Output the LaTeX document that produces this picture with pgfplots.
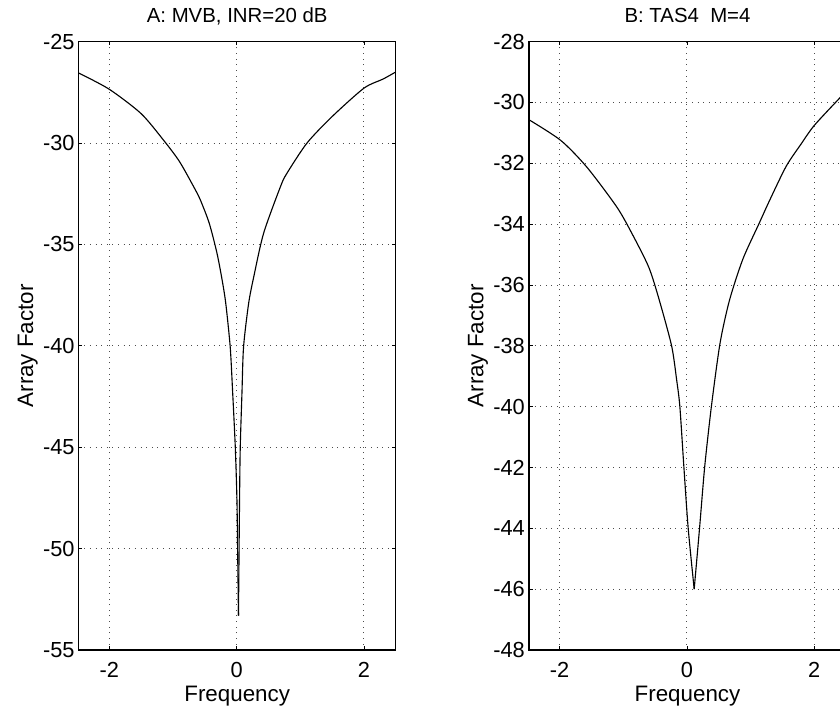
\documentclass[border=0pt]{standalone}
\usepackage{fontspec}
\setmainfont{Liberation Sans}
\usepackage{pgfplots}
\pgfplotsset{compat=1.18}
\pgfplotstableread{
x y
-2.48 -26.55
-2.0 -27.35
-1.5 -28.55
-1.15 -29.85
-0.9 -30.9
-0.675 -32.15
-0.57 -32.8
-0.43 -33.95
-0.31 -35.4
-0.23 -36.7
-0.17 -37.9
-0.10 -40.05
-0.063 -42.2
-0.02 -45.0
0.006 -47.6
0.016 -49.9
0.03 -53.3
}\dataAl
\pgfplotstableread{
x y
0.03 -53.3
0.047 -47.6
0.058 -45.0
0.085 -42.3
0.11 -40.05
0.19 -37.9
0.27 -36.6
0.425 -34.45
0.69 -32.15
0.79 -31.5
1.107 -30.0
1.5 -28.7
2.0 -27.3
2.3 -26.85
2.5 -26.5
}\dataAr
\pgfplotstableread{
x y
-2.48 -30.57
-1.98 -31.25
-1.57 -32.13
-1.10 -33.44
-0.86 -34.32
-0.60 -35.41
-0.44 -36.45
-0.24 -38.0
-0.16 -39.13
-0.11 -40.0
-0.047 -41.98
0.02 -43.98
0.115 -46.0
}\dataBl
\pgfplotstableread{
x y
0.115 -46.0
0.2 -43.98
0.28 -41.98
0.385 -40.0
0.52 -37.93
0.67 -36.5
0.88 -35.15
1.13 -34.0
1.30 -33.22
1.56 -32.1
1.8 -31.35
2.0 -30.76
2.39 -29.88
2.5 -29.65
}\dataBr
\begin{document}
\begin{tikzpicture}
\path (0,0) rectangle (210mm,178.5mm);
\pgfplotsset{
  mvb/.style={
    overlay,
    scale only axis,
    width=79.25mm, height=152.1mm,
    anchor=south west,
    xmin=-2.48, xmax=2.5,
    xtick={-2,0,2},
    tick align=inside,
    major tick length=0.9mm,
    tick style={black, line width=0.5pt},
    axis line style={black, line width=0.8pt},
    grid=major,
    major grid style={black!70, line width=0.6pt, dash pattern=on 0.6pt off 3.4pt},
    ticklabel style={font=\fontsize{15.5}{16}\selectfont},
    /pgf/number format/assume math mode=true,
    xticklabel style={anchor=base, yshift=-6.9mm},
    yticklabel style={anchor=east, xshift=0.2mm},
    title style={font=\fontsize{14.5}{15}\selectfont, at={(axis description cs:0.5,1)}, anchor=base, yshift=2.6mm},
    xlabel={Frequency},
    ylabel={Array Factor},
    xlabel style={font=\fontsize{15.9}{16}\selectfont, at={(axis description cs:0.5,0)}, anchor=base, yshift=-13mm},
    ylabel style={font=\fontsize{15.9}{16}\selectfont, at={(axis description cs:0,0.5)}, anchor=base},
    every axis y label/.append style={yshift=11.4mm},
    curve/.style={black, line width=0.8pt, mark=none, smooth, tension=0.45},
  }
}
\begin{axis}[mvb, at={(19.675mm,16mm)},
  ymin=-55, ymax=-25, ytick={-55,-50,...,-25},
  title={A: MVB, INR=20 dB}]
\addplot[curve] table[x=x,y=y] {\dataAl};
\addplot[curve] table[x=x,y=y] {\dataAr};
\end{axis}
\begin{axis}[mvb, at={(132.25mm,16mm)},
  ymin=-48, ymax=-28, ytick={-48,-46,...,-28},
  title={B: TAS4\ \ M=4}]
\addplot[curve] table[x=x,y=y] {\dataBl};
\addplot[curve] table[x=x,y=y] {\dataBr};
\end{axis}
\end{tikzpicture}
\end{document}
